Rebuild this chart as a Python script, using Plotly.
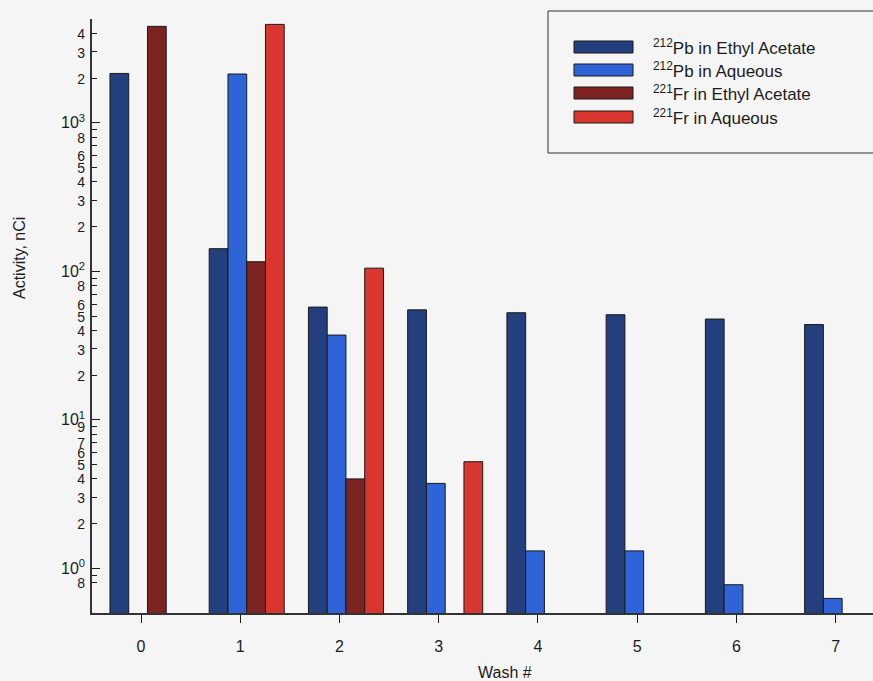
import math
import plotly.graph_objects as go

# Activity of each fraction per wash step (nCi); None = not measured
washes = [0, 1, 2, 3, 4, 5, 6, 7]
pb_ethyl = [2150, 142, 57.4, 55, 52.6, 51, 47.7, 43.8]
pb_aqueous = [None, 2130, 37.2, 3.73, 1.31, 1.31, 0.775, 0.627]
fr_ethyl = [4460, 116, 4.0, None, None, None, None, None]
fr_aqueous = [None, 4600, 105, 5.22, None, None, None, None]

series_names = [
    "<sup>212</sup>Pb in Ethyl Acetate",
    "<sup>212</sup>Pb in Aqueous",
    "<sup>221</sup>Fr in Ethyl Acetate",
    "<sup>221</sup>Fr in Aqueous",
]
series_values = [pb_ethyl, pb_aqueous, fr_ethyl, fr_aqueous]
series_colors = ["#233f7e", "#2f63d8", "#7d2322", "#d8362f"]
bar_offsets = [-0.313, -0.124, 0.065, 0.254]
bar_width = 0.189

# Log-axis ticks: decades, labelled intermediate values, unlabelled ones
decade_vals = [1, 10, 100, 1000]
labelled_vals = [0.8, 2, 3, 4, 5, 6, 7, 9,
                 20, 30, 40, 50, 60, 80,
                 200, 300, 400, 500, 600, 800,
                 2000, 3000, 4000]
labelled_text = ["8", "2", "3", "4", "5", "6", "7", "9",
                 "2", "3", "4", "5", "6", "8",
                 "2", "3", "4", "5", "6", "8",
                 "2", "3", "4"]
unlabelled_vals = [0.9, 8, 70, 90, 700, 900]

tick_vals = decade_vals + labelled_vals
tick_text = ([f"10<sup>{int(round(math.log10(d)))}</sup>" for d in decade_vals]
             + [f"<span style='font-size:14px'>{t}</span>" for t in labelled_text])

font_family = "Arial, Liberation Sans, sans-serif"
ink = "#1c1c1c"
bg = "#f5f5f5"
y_range = [math.log10(0.5), math.log10(5000)]

fig = go.Figure()
for name, vals, color, off in zip(series_names, series_values, series_colors, bar_offsets):
    fig.add_trace(go.Bar(
        x=washes, y=vals, name=name,
        width=bar_width, offset=off,
        marker=dict(color=color, line=dict(color="#1a1a1a", width=1)),
        showlegend=False,
    ))

fig.update_layout(
    width=873, height=681,
    margin=dict(l=92, r=0, t=19, b=68),
    paper_bgcolor=bg, plot_bgcolor=bg,
    barmode="overlay",
    font=dict(family=font_family, color=ink, size=16),
    xaxis=dict(
        range=[-0.494, 7.376],
        tickmode="array", tickvals=washes, ticktext=[str(w) for w in washes],
        ticks="outside", ticklen=8, tickcolor=ink,
        showline=True, linecolor="#333333", linewidth=1.5,
        showgrid=False, zeroline=False,
        tickfont=dict(size=16), ticklabelstandoff=10,
    ),
    yaxis=dict(
        type="log", range=y_range,
        tickmode="array", tickvals=tick_vals, ticktext=tick_text,
        ticks="inside", ticklen=5, tickcolor=ink,
        minor=dict(tickmode="array", tickvals=unlabelled_vals, ticks="inside",
                   ticklen=5, tickcolor=ink),
        showline=True, linecolor="#333333", linewidth=1.5,
        showgrid=False, zeroline=False,
        tickfont=dict(size=16), ticklabelstandoff=2,
    ),
    # overlaid twin axis only supplies the longer decade ticks
    yaxis2=dict(
        type="log", range=y_range, overlaying="y", side="left",
        tickmode="array", tickvals=decade_vals,
        ticks="inside", ticklen=8, tickcolor=ink,
        showticklabels=False, showline=False,
        showgrid=False, zeroline=False,
    ),
)
fig.add_trace(go.Scatter(x=[None], y=[None], yaxis="y2", showlegend=False,
                         hoverinfo="skip"))

# Axis titles
fig.add_annotation(text="Activity, nCi", xref="paper", yref="paper",
                   x=(19 - 92) / 781, y=1 - (258 - 19) / 594,
                   textangle=-90, showarrow=False, font=dict(size=16),
                   xanchor="center", yanchor="middle")
fig.add_annotation(text="Wash #", xref="paper", yref="paper",
                   x=(505 - 92) / 781, y=(613 - 672) / 594,
                   showarrow=False, font=dict(size=16),
                   xanchor="center", yanchor="middle")


# Legend box with wide swatches (pixel positions -> paper coordinates)
def px_x(p):
    return (p - 92) / 781


def px_y(p):
    return (613 - p) / 594


fig.add_shape(type="rect", xref="paper", yref="paper",
              x0=px_x(548), x1=px_x(880), y0=px_y(153), y1=px_y(11),
              line=dict(color="#333333", width=1), fillcolor=bg, layer="above")
row_y = [47, 70, 93, 117]
for name, color, ry in zip(series_names, series_colors, row_y):
    fig.add_shape(type="rect", xref="paper", yref="paper",
                  x0=px_x(574), x1=px_x(633), y0=px_y(ry + 6), y1=px_y(ry - 6),
                  line=dict(color="#1a1a1a", width=1), fillcolor=color, layer="above")
    fig.add_annotation(text=name, xref="paper", yref="paper",
                       x=px_x(651), y=px_y(ry), xanchor="left", yanchor="middle",
                       showarrow=False, font=dict(size=17))

fig.write_html("out.html")
